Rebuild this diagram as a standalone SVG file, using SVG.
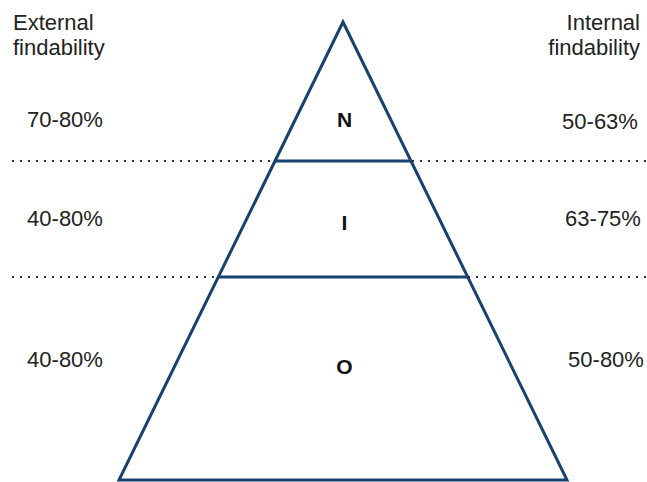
<svg xmlns="http://www.w3.org/2000/svg" width="647" height="482" viewBox="0 0 647 482">
<style>
.t{font-family:"Liberation Sans",Arial,sans-serif;font-size:22px;fill:#222}
.h{font-family:"Liberation Sans",Arial,sans-serif;font-size:22px;fill:#222}
.b{font-family:"Liberation Sans",Arial,sans-serif;font-size:21px;font-weight:bold;fill:#111}
.dot{stroke:#333;stroke-width:2;stroke-dasharray:2 6;fill:none}
.p{stroke:#17426f;stroke-width:3;fill:none;stroke-linejoin:miter}
</style>
<rect width="647" height="482" fill="#fff"/>
<g id="guides">
<line class="dot" x1="12" y1="161" x2="647" y2="161"/>
<line class="dot" x1="12" y1="277" x2="647" y2="277"/>
</g>
<g id="pyramid">
<polygon class="p" points="343,22 567,480 119,480"/>
<line class="p" x1="275" y1="161" x2="411" y2="161"/>
<line class="p" x1="218" y1="277" x2="468" y2="277"/>
</g>
<g id="node-N"><text class="b" x="344.5" y="127" text-anchor="middle">N</text></g>
<g id="node-I"><text class="b" x="344.5" y="230" text-anchor="middle">I</text></g>
<g id="node-O"><text class="b" x="344.5" y="374" text-anchor="middle">O</text></g>
<g id="left-labels">
<text class="h" x="13" y="30">External</text>
<text class="h" x="13" y="55">findability</text>
<text class="t" x="65" y="127" text-anchor="middle">70-80%</text>
<text class="t" x="65" y="226" text-anchor="middle">40-80%</text>
<text class="t" x="65" y="367" text-anchor="middle">40-80%</text>
</g>
<g id="right-labels">
<text class="h" x="640" y="30" text-anchor="end">Internal</text>
<text class="h" x="640" y="55" text-anchor="end">findability</text>
<text class="t" x="600" y="129" text-anchor="middle">50-63%</text>
<text class="t" x="603" y="226" text-anchor="middle">63-75%</text>
<text class="t" x="606" y="367" text-anchor="middle">50-80%</text>
</g>
</svg>
